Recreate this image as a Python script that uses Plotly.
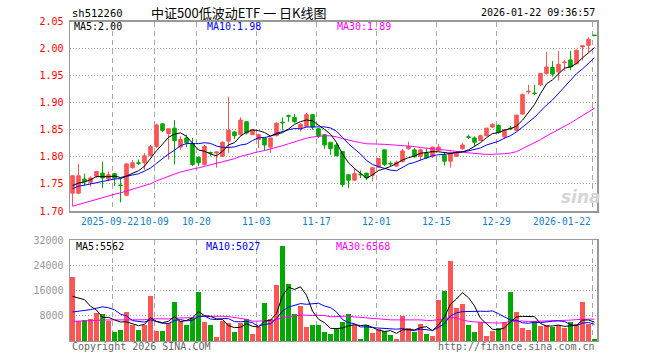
import plotly.graph_objects as go
import pandas as pd

# page body margin is removed by a small post-script, so page pixels == figure pixels
OFF = 0
W, H = 660 - OFF, 360 - OFF

# ---------------- data ----------------
dates = [
    "2025-09-11", "2025-09-12", "2025-09-15", "2025-09-16", "2025-09-17", "2025-09-18", "2025-09-19",
    "2025-09-22", "2025-09-23", "2025-09-24", "2025-09-25", "2025-09-26", "2025-09-29", "2025-09-30",
    "2025-10-09", "2025-10-10", "2025-10-13", "2025-10-14", "2025-10-15", "2025-10-16", "2025-10-17",
    "2025-10-20", "2025-10-21", "2025-10-22", "2025-10-23", "2025-10-24", "2025-10-27", "2025-10-28",
    "2025-10-29", "2025-10-30", "2025-10-31",
    "2025-11-03", "2025-11-04", "2025-11-05", "2025-11-06", "2025-11-07", "2025-11-10", "2025-11-11",
    "2025-11-12", "2025-11-13", "2025-11-14", "2025-11-17", "2025-11-18", "2025-11-19", "2025-11-20",
    "2025-11-21", "2025-11-24", "2025-11-25", "2025-11-26", "2025-11-27", "2025-11-28",
    "2025-12-01", "2025-12-02", "2025-12-03", "2025-12-04", "2025-12-05", "2025-12-08", "2025-12-09",
    "2025-12-10", "2025-12-11", "2025-12-12", "2025-12-15", "2025-12-16", "2025-12-17", "2025-12-18",
    "2025-12-19", "2025-12-22", "2025-12-23", "2025-12-24", "2025-12-25", "2025-12-26", "2025-12-29",
    "2025-12-30", "2025-12-31",
    "2026-01-05", "2026-01-06", "2026-01-07", "2026-01-08", "2026-01-09", "2026-01-12", "2026-01-13",
    "2026-01-14", "2026-01-15", "2026-01-16", "2026-01-19", "2026-01-20", "2026-01-21", "2026-01-22",
]

open_ = [1.733, 1.733, 1.759, 1.753, 1.764, 1.770, 1.759, 1.769, 1.748, 1.729,
         1.780, 1.789, 1.789, 1.802, 1.819, 1.861, 1.843, 1.853, 1.818, 1.835,
         1.824, 1.799, 1.786, 1.808, 1.807, 1.801, 1.829, 1.846, 1.841, 1.865,
         1.841, 1.832, 1.835, 1.818, 1.839, 1.864, 1.876, 1.873, 1.853, 1.856,
         1.878, 1.852, 1.841, 1.827, 1.822, 1.810, 1.767, 1.757, 1.768, 1.770,
         1.766, 1.781, 1.813, 1.788, 1.783, 1.791, 1.815, 1.813, 1.801, 1.807,
         1.801, 1.812, 1.803, 1.792, 1.801, 1.815, 1.837, 1.835, 1.830, 1.839,
         1.855, 1.858, 1.837, 1.853, 1.849, 1.879, 1.920, 1.918, 1.933, 1.954,
         1.965, 1.957, 1.974, 1.979, 1.972, 2.003, 2.006, 2.025]
high = [1.766, 1.787, 1.769, 1.764, 1.774, 1.791, 1.773, 1.770, 1.761, 1.788,
        1.794, 1.795, 1.807, 1.822, 1.861, 1.861, 1.852, 1.868, 1.838, 1.841,
        1.835, 1.801, 1.822, 1.810, 1.810, 1.829, 1.911, 1.848, 1.873, 1.865,
        1.850, 1.843, 1.835, 1.835, 1.864, 1.873, 1.878, 1.879, 1.862, 1.881,
        1.878, 1.852, 1.841, 1.827, 1.826, 1.810, 1.767, 1.780, 1.775, 1.770,
        1.781, 1.798, 1.813, 1.792, 1.793, 1.815, 1.828, 1.816, 1.815, 1.816,
        1.819, 1.824, 1.808, 1.810, 1.810, 1.826, 1.841, 1.838, 1.841, 1.854,
        1.862, 1.860, 1.851, 1.857, 1.878, 1.917, 1.933, 1.933, 1.955, 1.994,
        1.977, 1.996, 1.979, 1.996, 1.998, 2.006, 2.021, 2.025]
low = [1.709, 1.731, 1.746, 1.745, 1.761, 1.742, 1.755, 1.746, 1.716, 1.727,
       1.778, 1.785, 1.776, 1.801, 1.816, 1.846, 1.795, 1.786, 1.813, 1.818,
       1.783, 1.783, 1.784, 1.801, 1.780, 1.800, 1.807, 1.833, 1.839, 1.841,
       1.841, 1.816, 1.811, 1.807, 1.838, 1.849, 1.865, 1.862, 1.847, 1.855,
       1.850, 1.835, 1.815, 1.804, 1.801, 1.744, 1.742, 1.756, 1.761, 1.757,
       1.755, 1.780, 1.783, 1.783, 1.781, 1.790, 1.813, 1.799, 1.794, 1.796,
       1.798, 1.811, 1.784, 1.780, 1.800, 1.813, 1.833, 1.819, 1.829, 1.838,
       1.853, 1.843, 1.833, 1.850, 1.847, 1.878, 1.916, 1.914, 1.931, 1.952,
       1.948, 1.941, 1.959, 1.960, 1.971, 1.978, 1.994, 2.024]
close = [1.765, 1.765, 1.754, 1.761, 1.773, 1.761, 1.767, 1.761, 1.747, 1.787,
         1.789, 1.788, 1.802, 1.819, 1.859, 1.849, 1.852, 1.830, 1.832, 1.826,
         1.786, 1.789, 1.819, 1.807, 1.809, 1.827, 1.849, 1.839, 1.868, 1.844,
         1.850, 1.841, 1.822, 1.835, 1.862, 1.863, 1.875, 1.865, 1.860, 1.878,
         1.855, 1.839, 1.822, 1.815, 1.802, 1.749, 1.757, 1.769, 1.767, 1.761,
         1.780, 1.797, 1.786, 1.787, 1.790, 1.811, 1.819, 1.800, 1.813, 1.798,
         1.818, 1.818, 1.792, 1.807, 1.807, 1.822, 1.836, 1.827, 1.839, 1.853,
         1.860, 1.845, 1.850, 1.852, 1.877, 1.915, 1.921, 1.917, 1.954, 1.966,
         1.953, 1.971, 1.975, 1.966, 1.997, 2.005, 2.017, 2.024]
volume = [20290, 6220, 6730, 6950, 8860, 8540, 6220, 2830, 3560, 9180,
          5140, 3460, 4950, 14260, 3140, 3140, 5680, 12350, 6220, 5140,
          7200, 15580, 6000, 5050, 1240, 6320, 5590, 2830, 5680, 6860,
          2290, 4510, 12030, 7050, 17840, 30230, 18070, 8540, 11080, 4510,
          5140, 5140, 2920, 2250, 4100, 6000, 8540, 4950, 700, 4950,
          2510, 3870, 3050, 1870, 700, 8000, 4100, 2920, 5370, 2220,
          1560, 13080, 15940, 25460, 10450, 11720, 5050, 2830, 5900, 1650,
          3140, 4100, 6000, 15530, 9180, 4100, 3460, 6220, 4730, 4950,
          4320, 4950, 4100, 6000, 5460, 12350, 5370, 600]

# closes / volumes of the 29 sessions before the window (estimated from the MA lines)
prior_close = [1.665, 1.668, 1.670, 1.665, 1.668, 1.672, 1.670, 1.671,
               1.690, 1.695, 1.698, 1.700, 1.697, 1.702,
               1.712, 1.718, 1.722, 1.720, 1.724, 1.722, 1.722,
               1.735, 1.740, 1.745, 1.738, 1.742, 1.744, 1.740, 1.744]
prior_volume = [5200, 4300, 6100, 3900, 4800, 5500, 3600, 4200, 5000, 4400,
                6300, 3900, 4700, 5100, 4000, 4600, 5300, 3700, 4900, 4800,
                4000, 4500, 3800, 4300, 4350, 8870, 9430, 17400, 14760]

tick_dates = ["2025-09-22", "2025-10-09", "2025-10-20", "2025-11-03", "2025-11-17",
              "2025-12-01", "2025-12-15", "2025-12-29", "2026-01-22"]
tick_text = ["2025-09-22", "10-09", "10-20", "11-03", "11-17",
             "12-01", "12-15", "12-29", "2026-01-22"]
price_ticks = [1.70, 1.75, 1.80, 1.85, 1.90, 1.95, 2.00, 2.05]
vol_ticks = [8000, 16000, 24000, 32000]

code = "sh512260"
title = "中证500低波动ETF 一 日K线图"
stamp = "2026-01-22 09:36:57"

# ---------------- derived ----------------
n = len(dates)
xs = list(range(n))
np_ = len(prior_close)
cs = pd.Series(prior_close + close)
vs = pd.Series(prior_volume + volume)
ma = {k: cs.rolling(k).mean().iloc[np_:].tolist() for k in (5, 10, 30)}
vma = {k: vs.rolling(k).mean().iloc[np_:].tolist() for k in (5, 10, 30)}

RED = "#FF5555"
GREEN = "#00A800"
MA_COL = {5: "#000000", 10: "#0000FF", 30: "#FF00FF"}
bar_colors = [RED if c >= o else GREEN for o, c in zip(open_, close)]
tickvals = [dates.index(d) - 0.3 for d in tick_dates]

MONO = "DejaVu Sans Mono"


def px(x):
    return (x - OFF) / W


def py(y):
    return 1 - (y - OFF) / H


fig = go.Figure()
fig.add_trace(go.Candlestick(
    x=xs, open=open_, high=high, low=low, close=close,
    increasing=dict(line=dict(color=RED, width=1), fillcolor=RED),
    decreasing=dict(line=dict(color=GREEN, width=1), fillcolor=GREEN),
    whiskerwidth=0, xaxis="x", yaxis="y", hoverinfo="skip"))
for k in (30, 10, 5):
    fig.add_trace(go.Scatter(x=xs, y=ma[k], mode="lines",
                             line=dict(color=MA_COL[k], width=1),
                             xaxis="x", yaxis="y", hoverinfo="skip"))
fig.add_trace(go.Bar(x=xs, y=volume, marker=dict(color=bar_colors, line=dict(width=0)),
                     width=0.82, xaxis="x2", yaxis="y2", hoverinfo="skip"))
for k in (30, 10, 5):
    fig.add_trace(go.Scatter(x=xs, y=vma[k], mode="lines",
                             line=dict(color=MA_COL[k], width=1),
                             xaxis="x2", yaxis="y2", hoverinfo="skip"))

X0, X1 = 70, 597
xdom = [px(X0), px(X1)]
xr = [-0.42, n - 1 + 0.42]
common_x = dict(domain=xdom, range=xr, tickvals=tickvals, showgrid=True,
                gridcolor="#A8A8A8", griddash="5px,4px", gridwidth=1,
                showline=True, mirror=True, linecolor="#999999", linewidth=1.5,
                zeroline=False, ticks="", fixedrange=True, automargin=False,
                showticklabels=False)
common_y = dict(showgrid=True, gridcolor="#A0A0A0", griddash="1px,2px",
                showline=True, mirror=True, linecolor="#999999", linewidth=1.5,
                zeroline=False, ticks="", automargin=False, ticklabelstandoff=3,
                fixedrange=True)

fig.update_layout(
    width=W, height=H, margin=dict(l=0, r=0, t=0, b=0, autoexpand=False),
    paper_bgcolor="white", plot_bgcolor="white", showlegend=False,
    boxgap=0.15, bargap=0, hovermode=False,
    xaxis=dict(**common_x, anchor="y", rangeslider=dict(visible=False)),
    yaxis=dict(**common_y, domain=[py(211), py(21.5)], range=[1.70, 2.05],
               tickvals=price_ticks, ticktext=[f"{v:.2f}" for v in price_ticks],
               tickfont=dict(family=MONO, size=10, color="#FF0000"), anchor="x"),
    xaxis2=dict(**common_x, anchor="y2"),
    yaxis2=dict(**common_y, domain=[py(340.9), py(240.1)], range=[0, 32000],
                tickvals=vol_ticks, ticktext=[str(v) for v in vol_ticks],
                tickfont=dict(family=MONO, size=10, color="#999999"), anchor="x2"),
)


def txt(x, y, s, color="#000000", size=10, family=MONO, xanchor="left", **kw):
    fig.add_annotation(x=px(x), y=py(y), xref="paper", yref="paper", text=s,
                       showarrow=False, xanchor=xanchor, yanchor="middle",
                       font=dict(family=family, size=size, color=color, **kw))


txt(70, 13, code, size=10.5)
txt(239, 13, title, size=13, family="Noto Sans CJK SC", xanchor="center")
txt(597, 13, stamp, size=10, xanchor="right")

# date labels under the price panel
for i, (tv, tt) in enumerate(zip(tickvals, tick_text)):
    if i == 0:
        anchor, xv = "right", dates.index(tick_dates[1]) - 0.3 - 14 / 6
    elif i == len(tickvals) - 1:
        anchor, xv = "right", tv
    else:
        anchor, xv = "center", tv
    fig.add_annotation(x=xv, y=py(221.5), xref="x", yref="paper", text=tt,
                       showarrow=False, xanchor=anchor, yanchor="middle",
                       font=dict(family=MONO, size=9.6, color="#1380C8"))

txt(72, 27, f"MA5:{ma[5][-1]:.2f}", MA_COL[5])
txt(205, 27, f"MA10:{ma[10][-1]:.2f}", MA_COL[10])
txt(335, 27, f"MA30:{ma[30][-1]:.2f}", MA_COL[30])

txt(74, 246, "MA5:5562", MA_COL[5])
txt(204, 246, "MA10:5027", MA_COL[10])
txt(334, 246, "MA30:6568", MA_COL[30])

txt(70, 346, "Copyright 2026 SINA.COM", "#666666")
txt(597, 346, "http://finance.sina.com.cn", "#666666", xanchor="right")

# watermark
txt(581, 197, "sina", "#D6D6D6", size=17, family="DejaVu Sans", xanchor="center",
    weight="bold", style="italic")

fig.write_html("out.html",
               config={"displayModeBar": False, "staticPlot": True},
               post_script="document.body.style.margin='0';document.body.style.overflow='hidden';")
